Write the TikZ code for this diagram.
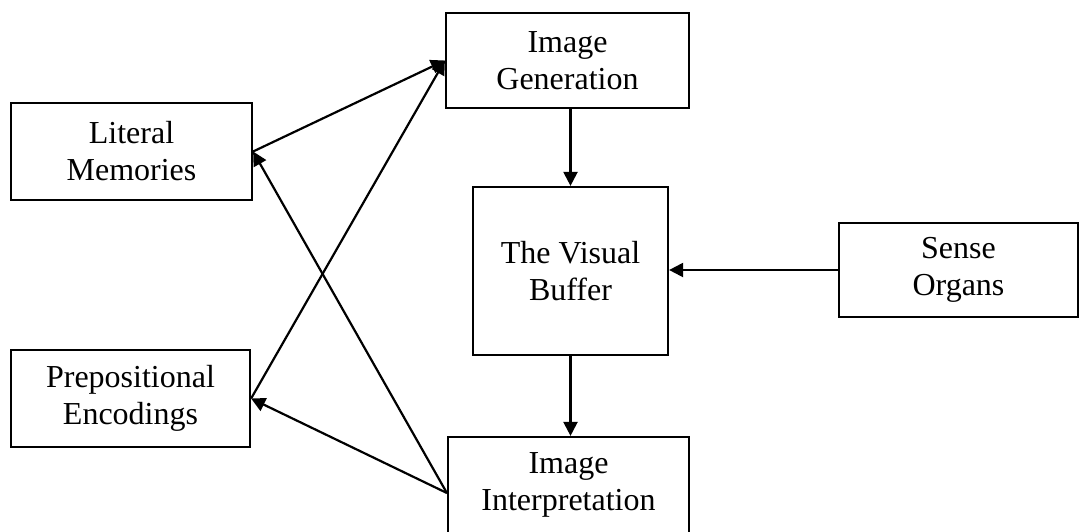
\documentclass[tikz,border=0pt]{standalone}
\usepackage{fontspec}
\setmainfont{Liberation Serif}
\usetikzlibrary{arrows.meta}

\begin{document}
\begin{tikzpicture}[x=1pt, y=-1pt,
  box/.style={draw, line width=2.2pt, align=center, inner sep=0pt,
    font=\fontsize{32}{37}\selectfont},
  link/.style={line width=2.2pt, -{Triangle[length=14pt,width=14pt]}}]
\useasboundingbox (0,0) rectangle (1081,531);

\node[box, minimum width=243pt, minimum height=95pt] (gen) at (567.5, 60.5) {Image\\Generation};
\node[box, minimum width=241pt, minimum height=97pt] (lit) at (131.5, 151.5) {Literal\\Memories};
\node[box, minimum width=239pt, minimum height=97pt] (prep) at (130.5, 398.5) {Prepositional\\Encodings};
\node[box, minimum width=195pt, minimum height=168pt] (buf) at (570.5, 271) {The Visual\\Buffer};
\node[box, minimum width=239pt, minimum height=94pt] (sense) at (958.5, 270) {Sense\\Organs};
\node[box, minimum width=241pt, minimum height=96pt] (interp) at (568.5, 485) {Image\\Interpretation};

\draw[link] (lit.east) -- (gen.west);
\draw[link] (prep.east) -- (gen.west);
\draw[link] ([yshift=-8pt]interp.west) -- (lit.east);
\draw[link] ([yshift=-8pt]interp.west) -- (prep.east);

\draw[link] (buf.north |- gen.south) -- (buf.north);
\draw[link] (buf.south) -- (buf.south |- interp.north);
\draw[link] (sense.west) -- (sense.west -| buf.east);

\end{tikzpicture}
\end{document}
